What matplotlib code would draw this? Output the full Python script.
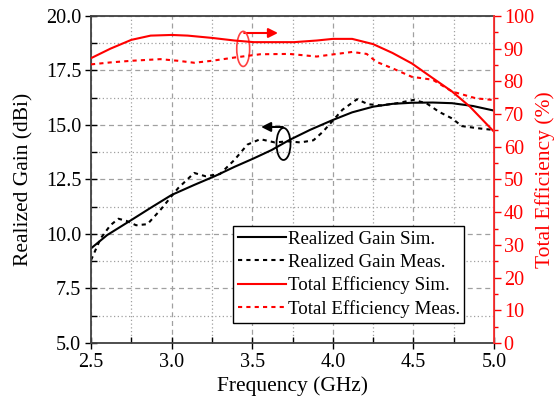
import matplotlib
matplotlib.use('Agg')
import matplotlib.pyplot as plt
from matplotlib.patches import Ellipse
from matplotlib.ticker import MultipleLocator, FormatStrFormatter

plt.rcParams['font.family'] = ['Liberation Serif', 'DejaVu Serif']

# realized gain, dBi
freq_gain_sim = [2.5, 2.6, 2.75, 2.87, 3.0, 3.14, 3.27, 3.39, 3.51, 3.62, 3.73, 3.86,
                 4.0, 4.12, 4.25, 4.37, 4.49, 4.62, 4.74, 4.87, 5.0]
gain_sim = [9.34, 9.95, 10.64, 11.2, 11.79, 12.25, 12.66, 13.08, 13.47, 13.85, 14.31, 14.78,
            15.23, 15.58, 15.84, 15.97, 16.02, 16.03, 16.0, 15.87, 15.66]

freq_gain_meas = [2.5, 2.56, 2.62, 2.67, 2.72, 2.78, 2.85, 2.93, 3.04, 3.14, 3.21, 3.3,
                  3.39, 3.47, 3.55, 3.64, 3.72, 3.8, 3.88, 3.94, 4.0, 4.06, 4.15, 4.22,
                  4.3, 4.4, 4.5, 4.58, 4.66, 4.74, 4.8, 4.9, 5.0]
gain_meas = [8.8, 9.8, 10.4, 10.7, 10.6, 10.4, 10.45, 11.1, 12.1, 12.8, 12.65, 12.75,
             13.4, 14.1, 14.35, 14.2, 14.25, 14.2, 14.3, 14.7, 15.2, 15.7, 16.18, 15.95,
             15.9, 16.0, 16.15, 16.0, 15.6, 15.3, 14.95, 14.85, 14.77]

# total efficiency, %
freq_eff_sim = [2.5, 2.62, 2.75, 2.87, 3.0, 3.1, 3.25, 3.39, 3.51, 3.65, 3.76, 3.9,
                4.0, 4.12, 4.25, 4.37, 4.49, 4.62, 4.74, 4.85, 5.0]
eff_sim = [87.1, 90.0, 92.7, 94.0, 94.2, 94.0, 93.3, 92.5, 92.0, 92.0, 92.0, 92.5,
           93.0, 93.0, 91.4, 88.7, 85.5, 81.0, 76.9, 72.3, 64.6]

freq_eff_meas = [2.5, 2.62, 2.75, 2.93, 3.04, 3.14, 3.25, 3.39, 3.55, 3.73, 3.9, 4.04,
                 4.12, 4.21, 4.27, 4.37, 4.49, 4.62, 4.74, 4.89, 5.0]
eff_meas = [85.2, 85.8, 86.3, 86.8, 86.3, 85.7, 86.3, 87.3, 88.3, 88.4, 87.6, 88.5,
            89.0, 88.4, 86.0, 84.0, 81.4, 80.5, 76.9, 74.8, 74.3]

fig = plt.figure(figsize=(5.56, 4.09), dpi=100)
ax = fig.add_axes([0.1637, 0.1614, 0.7248, 0.7995])
ax2 = ax.twinx()

l1, = ax.plot(freq_gain_sim, gain_sim, color='black', lw=1.5, label='Realized Gain Sim.')
l2, = ax.plot(freq_gain_meas, gain_meas, color='black', lw=1.5, ls=(0, (2, 2)),
              label='Realized Gain Meas.')
l3, = ax2.plot(freq_eff_sim, eff_sim, color='red', lw=1.5, label='Total Efficiency Sim.')
l4, = ax2.plot(freq_eff_meas, eff_meas, color='red', lw=1.5, ls=(0, (2, 2)),
               label='Total Efficiency Meas.')

ax.set_xlim(2.5, 5.0)
ax.set_ylim(5.0, 20.0)
ax2.set_ylim(0, 100)

ax.xaxis.set_major_locator(MultipleLocator(0.5))
ax.xaxis.set_minor_locator(MultipleLocator(0.25))
ax.yaxis.set_major_locator(MultipleLocator(2.5))
ax.yaxis.set_minor_locator(MultipleLocator(1.25))
ax.xaxis.set_major_formatter(FormatStrFormatter('%.1f'))
ax.yaxis.set_major_formatter(FormatStrFormatter('%.1f'))
ax2.yaxis.set_major_locator(MultipleLocator(10))
ax2.yaxis.set_minor_locator(MultipleLocator(5))

ax.grid(which='major', color='#a0a0a0', lw=0.9, ls=(0, (4, 3)))
ax.grid(which='minor', color='#a0a0a0', lw=0.9, ls=(0, (1, 2)))
ax.set_axisbelow(True)

ax.tick_params(which='major', direction='inout', length=8, width=1, labelsize=14.5, pad=3)
ax.tick_params(which='minor', direction='in', length=4, width=1)
ax.tick_params(axis='y', right=False)
ax2.tick_params(which='major', direction='out', length=5, width=1, colors='red',
                labelsize=14.5, pad=2)
ax2.tick_params(which='minor', direction='out', length=3, width=1, colors='red')

for name in ['left', 'bottom', 'top']:
    ax.spines[name].set_color('#404040')
    ax.spines[name].set_linewidth(1.3)
ax2.spines['right'].set_color('#ff3030')
ax2.spines['right'].set_linewidth(1.3)
ax2.spines['left'].set_visible(False)
ax2.spines['top'].set_visible(False)
ax2.spines['bottom'].set_visible(False)

ax.set_xlabel('Frequency (GHz)', fontsize=15.5, labelpad=3)
ax.set_ylabel('Realized Gain (dBi)', fontsize=15.5, labelpad=9)
ax2.set_ylabel('Total Efficiency (%)', fontsize=15.5, color='red', labelpad=1)

# ellipse + arrow markers pointing to each curve's axis
ax.add_patch(Ellipse((3.444, 18.49), 0.08, 1.61, fill=False, ec='#ff4040', lw=1.2, zorder=5))
ax.annotate('', xy=(3.66, 19.22), xytext=(3.45, 19.22),
            arrowprops=dict(arrowstyle='-|>', color='red', lw=1.5, mutation_scale=14,
                            shrinkA=0, shrinkB=0))
ax.add_patch(Ellipse((3.694, 14.13), 0.087, 1.47, fill=False, ec='black', lw=1.3, zorder=5))
ax.annotate('', xy=(3.555, 14.91), xytext=(3.69, 14.91),
            arrowprops=dict(arrowstyle='-|>', color='black', lw=1.5, mutation_scale=14,
                            shrinkA=0, shrinkB=0))

leg = ax2.legend(handles=[l1, l2, l3, l4], loc='upper left', bbox_to_anchor=(0.352, 0.358),
                 fontsize=13.6, frameon=True, fancybox=False, edgecolor='black',
                 framealpha=1, borderpad=0.25, handlelength=2.55, handletextpad=0.1,
                 labelspacing=0.3, borderaxespad=0)
leg.get_frame().set_linewidth(1.0)

fig.savefig('out.png', dpi=100)
